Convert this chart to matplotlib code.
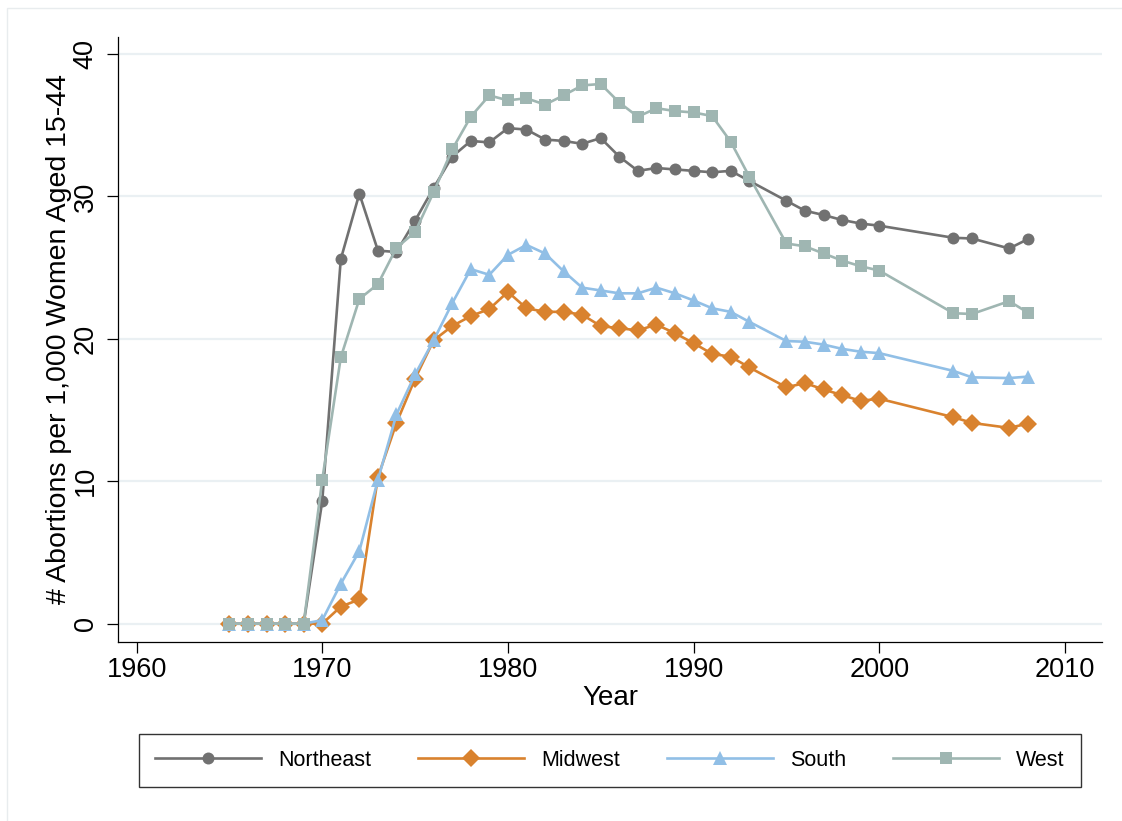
import matplotlib
matplotlib.use("Agg")
import matplotlib.pyplot as plt
import matplotlib.patches as mpatches

plt.rcParams["font.family"] = ["Liberation Sans", "DejaVu Sans"]

# Data
years = [1965, 1966, 1967, 1968, 1969, 1970, 1971, 1972, 1973, 1974,
         1975, 1976, 1977, 1978, 1979, 1980, 1981, 1982, 1983, 1984,
         1985, 1986, 1987, 1988, 1989, 1990, 1991, 1992, 1993, 1995,
         1996, 1997, 1998, 1999, 2000, 2004, 2005, 2007, 2008]

northeast = [0, 0, 0, 0, 0, 8.6, 25.6, 30.2, 26.2, 26.1,
             28.3, 30.6, 32.8, 33.9, 33.8, 34.8, 34.7, 34.0, 33.9, 33.7,
             34.1, 32.8, 31.8, 32.0, 31.9, 31.8, 31.7, 31.8, 31.1, 29.7,
             29.0, 28.7, 28.35, 28.1, 27.95, 27.1, 27.05, 26.35, 27.0]

midwest = [0, 0, 0, 0, 0, 0.0, 1.2, 1.7, 10.3, 14.1,
           17.2, 19.9, 20.9, 21.6, 22.1, 23.3, 22.15, 21.9, 21.9, 21.7,
           20.9, 20.75, 20.6, 21.0, 20.4, 19.7, 18.95, 18.75, 18.0, 16.6,
           16.9, 16.45, 16.05, 15.65, 15.8, 14.5, 14.1, 13.75, 14.05]

south = [0, 0, 0, 0, 0, 0.25, 2.8, 5.1, 10.1, 14.7,
         17.5, 19.9, 22.5, 24.9, 24.5, 25.9, 26.6, 26.0, 24.75, 23.6,
         23.4, 23.2, 23.2, 23.6, 23.2, 22.7, 22.15, 21.9, 21.2, 19.85,
         19.8, 19.6, 19.3, 19.1, 19.0, 17.75, 17.3, 17.25, 17.35]

west = [0, 0, 0, 0, 0, 10.1, 18.7, 22.8, 23.85, 26.4,
        27.5, 30.3, 33.3, 35.6, 37.1, 36.75, 36.9, 36.45, 37.1, 37.8,
        37.9, 36.6, 35.6, 36.2, 36.0, 35.9, 35.65, 33.85, 31.4, 26.7,
        26.5, 26.0, 25.5, 25.1, 24.8, 21.8, 21.75, 22.65, 21.85]

labels = ["Northeast", "Midwest", "South", "West"]
colors = ["#717171", "#d9822e", "#91bfe6", "#9fb6b2"]
markers = ["o", "D", "^", "s"]
msizes = [8.6, 9.0, 10.5, 8.6]

fig = plt.figure(figsize=(11.22, 8.21), dpi=100)
ax = fig.add_axes([118 / 1122, 1 - 641.5 / 821, (1102 - 118) / 1122, (641.5 - 37) / 821])

# faint outer frame, partly outside the canvas like the original
fig.patches.append(mpatches.Rectangle(
    (7 / 1122, -0.02), 1.05, 1 - 8 / 821 + 0.02, transform=fig.transFigure,
    fill=False, edgecolor="#e8ecee", linewidth=1.0))

series = [northeast, midwest, south, west]
for vals, lab, col, mk, ms in zip(series, labels, colors, markers, msizes):
    ax.plot(years, vals, color=col, lw=1.9, marker=mk, markersize=ms,
            markeredgewidth=0, label=lab)

ax.set_xlim(1959.0, 2012.0)
ax.set_ylim(-1.25, 41.2)
ax.set_xticks([1960, 1970, 1980, 1990, 2000, 2010])
ax.set_yticks([0, 10, 20, 30, 40])
ax.grid(axis="y", color="#eaf0f3", lw=1.6)
ax.set_axisbelow(True)

for s in ["top", "right"]:
    ax.spines[s].set_visible(False)
for s in ["left", "bottom"]:
    ax.spines[s].set_linewidth(0.9)

ax.tick_params(axis="x", length=8, width=0.9, labelsize=19.5, pad=3.5)
ax.tick_params(axis="y", length=8, width=0.9, labelsize=19.5, pad=6,
               labelrotation=90)
for t in ax.get_yticklabels():
    t.set_va("center")

ax.set_xlabel("Year", fontsize=20, labelpad=1)
ax.set_ylabel("# Abortions per 1,000 Women Aged 15-44", fontsize=20.5, labelpad=0.5)

leg = fig.legend(loc="center", bbox_to_anchor=(610 / 1122, 1 - 760.5 / 821),
                 ncol=4, fontsize=15.5, frameon=True, fancybox=False,
                 edgecolor="black", handlelength=4.9, handletextpad=0.8,
                 columnspacing=2.2, borderpad=0.75, numpoints=1)
leg.get_frame().set_linewidth(1.0)

fig.savefig("out.png", dpi=100, facecolor="white")
